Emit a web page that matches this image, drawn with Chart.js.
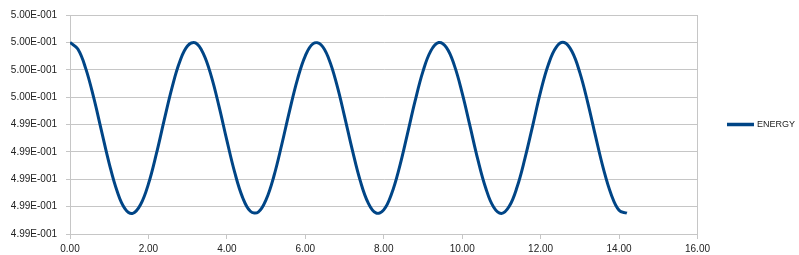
<!DOCTYPE html>
<html>
<head>
<meta charset="utf-8">
<script src="https://cdn.jsdelivr.net/npm/chart.js@4.4.1/dist/chart.umd.min.js"></script>
<style>
  html, body { margin: 0; padding: 0; background: #fff; }
  #wrap { width: 799px; height: 255px; }
</style>
</head>
<body>
<div id="wrap"><canvas id="energyChart"></canvas></div>
<script>
// time values (x)
const times = [0.0, 0.2, 0.4, 0.6, 0.8, 1.0, 1.2, 1.4, 1.6, 1.8,
  2.0, 2.2, 2.4, 2.6, 2.8, 3.0, 3.2, 3.4, 3.6, 3.8,
  4.0, 4.2, 4.4, 4.6, 4.8, 5.0, 5.2, 5.4, 5.6, 5.8,
  6.0, 6.2, 6.4, 6.6, 6.8, 7.0, 7.2, 7.4, 7.6, 7.8,
  8.0, 8.2, 8.4, 8.6, 8.8, 9.0, 9.2, 9.4, 9.6, 9.8,
  10.0, 10.2, 10.4, 10.6, 10.8, 11.0, 11.2, 11.4, 11.6, 11.8,
  12.0, 12.2, 12.4, 12.6, 12.8, 13.0, 13.2, 13.4, 13.6, 13.8,
  14.0, 14.2]

// ENERGY series
const energy = [0.500000, 0.499951, 0.499810, 0.499601, 0.499357, 0.499115, 0.498914, 0.498786, 0.498751, 0.498815,
  0.498966, 0.499183, 0.499430, 0.499668, 0.499860, 0.499975, 0.499996, 0.499918, 0.499755, 0.499532,
  0.499284, 0.499050, 0.498868, 0.498766, 0.498760, 0.498851, 0.499024, 0.499254, 0.499502, 0.499730,
  0.499902, 0.499991, 0.499983, 0.499879, 0.499695, 0.499460, 0.499213, 0.498990, 0.498829, 0.498754,
  0.498776, 0.498894, 0.499087, 0.499326, 0.499572, 0.499788, 0.499938, 0.499999, 0.499962, 0.499832,
  0.499630, 0.499388, 0.499143, 0.498936, 0.498797, 0.498750, 0.498802, 0.498943, 0.499152, 0.499394,
  0.499640, 0.499840, 0.499966, 0.499999, 0.499933, 0.499779, 0.499562, 0.499315, 0.499078, 0.498889,
  0.498773, 0.498752]

const seriesName = 'ENERGY'
const yTicks = [0.4986, 0.4988, 0.4990, 0.4992, 0.4994, 0.4996, 0.4998, 0.5000, 0.5002]
const xTicks = [0, 2, 4, 6, 8, 10, 12, 14, 16]

const lineColor = '#004586'
const gridColor = '#c6c6c6'
const textColor = '#222222'

function sciLabel(v) {
  // 0.5 -> 5.00E-001
  let parts = v.toExponential(2).split('e')
  let exp = parseInt(parts[1], 10)
  let sign = exp < 0 ? '-' : '+'
  let digits = String(Math.abs(exp)).padStart(3, '0')
  return parts[0] + 'E' + sign + digits
}

const points = times.map((t, i) => ({ x: t, y: energy[i] }))

// nudge the legend up a bit so it sits at mid height of the plot
const legendNudge = {
  id: 'legendNudge',
  afterLayout(chart) {
    if (chart.legend) {
      chart.legend.top -= 12
      chart.legend.bottom -= 12
    }
  },
}

const ctx = document.getElementById('energyChart').getContext('2d')
let energyChart = new Chart(ctx, {
  type: 'line',
  data: {
    datasets: [
      {
        label: seriesName,
        data: points,
        borderColor: lineColor,
        backgroundColor: lineColor,
        borderWidth: 3,
        pointRadius: 0,
        tension: 0.4,
        fill: false,
      },
    ],
  },
  plugins: [legendNudge],
  options: {
    responsive: true,
    maintainAspectRatio: false,
    animation: false,
    layout: {
      padding: { top: 14, right: -6, bottom: -4, left: 0 },
    },
    plugins: {
      tooltip: { enabled: false },
      legend: {
        position: 'right',
        labels: {
          boxWidth: 24,
          boxHeight: 0.5,
          padding: 31,
          color: textColor,
          font: { family: 'Liberation Sans', size: 9 },
        },
      },
    },
    scales: {
      x: {
        type: 'linear',
        min: 0,
        max: 16,
        afterBuildTicks: (scale) => {
          scale.ticks = xTicks.map((v) => ({ value: v }))
        },
        ticks: {
          padding: 4,
          maxRotation: 0,
          color: textColor,
          font: { family: 'Liberation Sans', size: 10 },
          callback: (v) => Number(v).toFixed(2),
        },
        grid: {
          color: (c) => (c.tick && c.tick.value === 16 ? gridColor : 'rgba(0,0,0,0)'),
          tickColor: gridColor,
          tickLength: 5,
        },
        border: { color: gridColor },
      },
      y: {
        min: 0.4986,
        max: 0.5002,
        afterBuildTicks: (scale) => {
          scale.ticks = yTicks.map((v) => ({ value: v }))
        },
        afterFit: (scale) => {
          scale.width = 70
        },
        ticks: {
          padding: 9,
          color: textColor,
          font: { family: 'Liberation Sans', size: 10 },
          callback: (v) => sciLabel(v),
        },
        grid: {
          color: gridColor,
          tickLength: 4,
        },
        border: { color: gridColor },
      },
    },
  },
})
</script>
</body>
</html>
